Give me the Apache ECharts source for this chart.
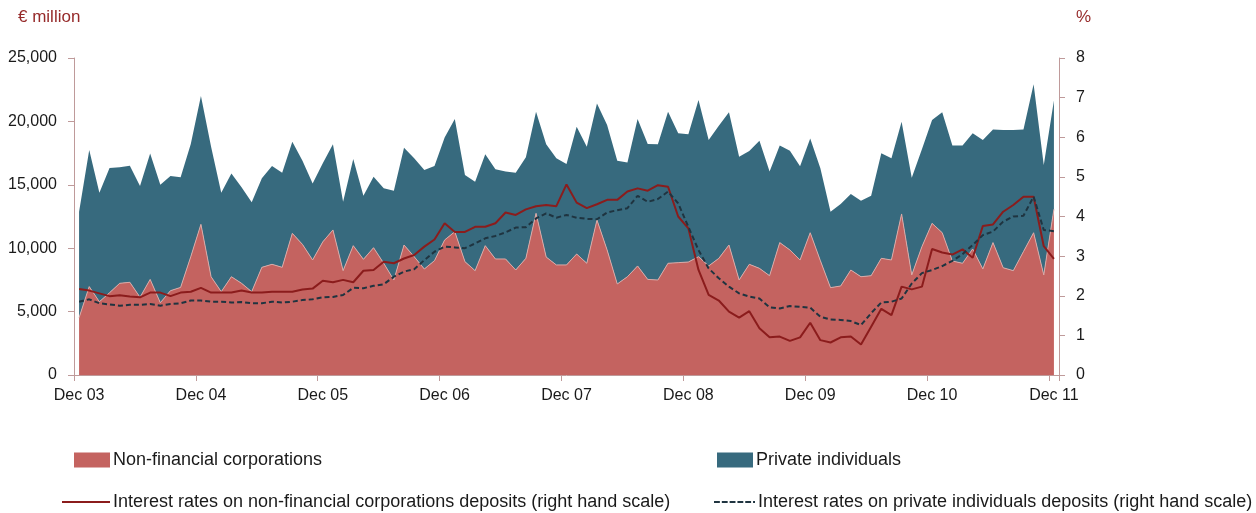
<!DOCTYPE html>
<html>
<head>
<meta charset="utf-8">
<script src="https://cdn.jsdelivr.net/npm/echarts@6/dist/echarts.min.js"></script>
<style>
  html, body { margin: 0; padding: 0; background: #fff; }
  #chart { width: 1256px; height: 513px; }
</style>
</head>
<body>
<div id="chart"></div>
<script>
// monthly, Dec 03 .. Dec 11 (97 points)
var monthNames = ['Dec', 'Jan', 'Feb', 'Mar', 'Apr', 'May', 'Jun', 'Jul', 'Aug', 'Sep', 'Oct', 'Nov'];
var yearLabels = ['03', '04', '05', '06', '07', '08', '09', '10', '11'];

// € million
var corporations = [
  4520, 6970, 5780, 6490, 7230, 7310, 6130, 7540, 5700, 6650, 6910, 9330,
  11880, 7750, 6570, 7750, 7230, 6570, 8490, 8730, 8490, 11170, 10300, 9070,
  10500, 11440, 8230, 10200, 9120, 10040, 8810, 7490, 10250, 9330, 8360, 9020,
  10650, 11300, 8940, 8230, 10200, 9150, 9150, 8280, 9200, 12750, 9300, 8680,
  8680, 9540, 8810, 12220, 9860, 7180, 7750, 8600, 7540, 7490, 8810, 8860,
  8910, 9330, 8600, 9200, 10250, 7490, 8730, 8410, 7830, 10440, 9860, 9070,
  11220, 9020, 6890, 7020, 8280, 7750, 7830, 9200, 9070, 12700, 7890, 10120,
  11960, 11220, 8990, 8810, 9940, 8360, 10440, 8460, 8230, 9730, 11220, 7890,
  13070
];
var individuals = [
  8360, 10770, 8600, 9830, 9150, 9200, 8780, 9920, 9310, 9040, 8680, 8890,
  10120, 10250, 7810, 8150, 7570, 7050, 7020, 7750, 7470, 7230, 6600, 6030,
  6190, 6750, 5440, 6830, 5020, 5600, 5910, 7050, 7680, 7760, 7810, 7460,
  8090, 8890, 6830, 7020, 7200, 7070, 6890, 7680, 7970, 8020, 8890, 8410,
  7960, 10040, 9200, 9200, 9860, 9720, 9000, 11590, 10680, 10700, 11960, 10200,
  10070, 12360, 9930, 10460, 10470, 9730, 8940, 10070, 8210, 7650, 7830, 7400,
  7440, 7280, 5990, 6470, 5990, 6000, 6310, 8280, 8020, 7280, 7670, 7680,
  8150, 9500, 9100, 9280, 9120, 10170, 8930, 10860, 11090, 9640, 11700, 8670,
  8570
];
// % (right hand scale)
var rateCorporations = [
  2.17, 2.13, 2.06, 1.99, 2.01, 1.98, 1.96, 2.08, 2.08, 1.99, 2.08, 2.10,
  2.20, 2.08, 2.08, 2.08, 2.13, 2.08, 2.08, 2.10, 2.10, 2.10, 2.16, 2.18,
  2.38, 2.34, 2.40, 2.34, 2.63, 2.65, 2.86, 2.82, 2.94, 3.03, 3.24, 3.42,
  3.83, 3.61, 3.61, 3.74, 3.74, 3.83, 4.10, 4.04, 4.18, 4.26, 4.29, 4.26,
  4.81, 4.35, 4.21, 4.31, 4.42, 4.42, 4.63, 4.71, 4.65, 4.79, 4.75, 4.00,
  3.70, 2.65, 2.02, 1.88, 1.60, 1.45, 1.61, 1.18, 0.95, 0.97, 0.86, 0.95,
  1.32, 0.88, 0.82, 0.95, 0.97, 0.77, 1.22, 1.67, 1.51, 2.23, 2.16, 2.23,
  3.18, 3.09, 3.04, 3.17, 2.96, 3.76, 3.80, 4.12, 4.29, 4.50, 4.50, 3.25,
  2.93
];
var rateIndividuals = [
  1.85, 1.91, 1.81, 1.78, 1.75, 1.77, 1.77, 1.79, 1.75, 1.79, 1.81, 1.88,
  1.88, 1.85, 1.85, 1.83, 1.84, 1.81, 1.81, 1.85, 1.83, 1.85, 1.89, 1.91,
  1.96, 1.97, 2.02, 2.20, 2.19, 2.25, 2.29, 2.48, 2.61, 2.67, 2.90, 3.11,
  3.24, 3.22, 3.20, 3.32, 3.45, 3.51, 3.60, 3.72, 3.73, 3.95, 4.08, 3.97,
  4.04, 3.97, 3.94, 3.93, 4.10, 4.16, 4.21, 4.52, 4.37, 4.44, 4.63, 4.33,
  3.74, 3.15, 2.69, 2.44, 2.23, 2.06, 1.98, 1.93, 1.71, 1.68, 1.74, 1.72,
  1.70, 1.47, 1.40, 1.39, 1.36, 1.26, 1.56, 1.83, 1.85, 1.93, 2.31, 2.57,
  2.65, 2.75, 2.88, 3.05, 3.28, 3.53, 3.62, 3.87, 4.00, 4.02, 4.50, 3.66,
  3.63
];

var categories = [];
for (var i = 0; i < corporations.length; i++) {
  var y = Math.floor((i + 11) / 12);
  categories.push(monthNames[i % 12] + ' ' + (yearLabels[y] || ''));
}

var font = "'Liberation Sans Narrow', 'Arial Narrow', 'Liberation Sans', sans-serif";
var axisColor = '#bf9a9a';
var red = '#c46360';
var teal = '#376a7e';
var rateRed = '#8b1c1c';
var rateDark = '#1f3440';
var ink = '#1a1a1a';
var legendText = { fontFamily: font, fontSize: 18, color: ink, padding: [0, 0, 0, -2] };

var chart = echarts.init(document.getElementById('chart'), null, { renderer: 'canvas' });
chart.setOption({
  animation: false,
  textStyle: { fontFamily: font },
  grid: { left: 74, right: 197, top: 58, bottom: 138, outerBoundsMode: 'none' },
  graphic: [
    { type: 'text', left: 18, top: 9, style: { text: '€ million', fill: '#962a2a', font: '17px ' + font } },
    { type: 'text', left: 1076, top: 9, style: { text: '%', fill: '#962a2a', font: '17px ' + font } }
  ],
  legend: [
    {
      data: ['Non-financial corporations'], left: 74, top: 451, padding: 0,
      itemWidth: 36, itemHeight: 15, icon: 'rect', textStyle: legendText
    },
    {
      data: ['Private individuals'], left: 717, top: 451, padding: 0,
      itemWidth: 36, itemHeight: 15, icon: 'rect', textStyle: legendText
    },
    {
      data: ['Interest rates on non-financial corporations deposits (right hand scale)'], left: 62, top: 493, padding: 0,
      itemWidth: 48, itemHeight: 14, icon: 'path://M0,0H48V2H0Z', textStyle: legendText
    },
    {
      data: ['Interest rates on private individuals deposits (right hand scale)'], left: 714, top: 493, padding: 0,
      itemWidth: 41, itemHeight: 14,
      icon: 'path://M0,0H6V2H0Z M8,0H14V2H8Z M16,0H22V2H16Z M24,0H30V2H24Z M32,0H38V2H32Z M40,0H42V2H40Z',
      textStyle: legendText
    }
  ],
  xAxis: {
    type: 'category',
    data: categories,
    boundaryGap: true,
    axisLine: { lineStyle: { color: axisColor, width: 1 } },
    axisTick: { show: true, interval: 11, length: 6, lineStyle: { color: axisColor } },
    axisLabel: { interval: 11, margin: 13, color: ink, fontSize: 16, fontFamily: font },
    splitLine: { show: false }
  },
  yAxis: [
    {
      type: 'value', min: 0, max: 25000, interval: 5000,
      axisLine: { show: true, lineStyle: { color: axisColor } },
      axisTick: { show: true, length: 6, lineStyle: { color: axisColor } },
      axisLabel: {
        margin: 17, color: ink, fontSize: 16, fontFamily: font,
        formatter: function(v) { return v.toLocaleString('en-US'); }
      },
      splitLine: { show: false }
    },
    {
      type: 'value', min: 0, max: 8, interval: 1, position: 'right',
      axisLine: { show: true, lineStyle: { color: axisColor } },
      axisTick: { show: true, length: 6, lineStyle: { color: axisColor } },
      axisLabel: { margin: 17, color: ink, fontSize: 16, fontFamily: font },
      splitLine: { show: false }
    }
  ],
  series: [
    {
      name: 'Non-financial corporations',
      type: 'line', stack: 'deposits', data: corporations,
      symbol: 'none', itemStyle: { color: red },
      lineStyle: { color: '#dba9a6', width: 1 },
      areaStyle: { color: red, opacity: 1 }
    },
    {
      name: 'Private individuals',
      type: 'line', stack: 'deposits', data: individuals,
      symbol: 'none', itemStyle: { color: teal },
      lineStyle: { width: 0, color: teal },
      areaStyle: { color: teal, opacity: 1 }
    },
    {
      name: 'Interest rates on non-financial corporations deposits (right hand scale)',
      type: 'line', yAxisIndex: 1, data: rateCorporations,
      symbol: 'none', z: 5, itemStyle: { color: rateRed },
      lineStyle: { color: rateRed, width: 2 }
    },
    {
      name: 'Interest rates on private individuals deposits (right hand scale)',
      type: 'line', yAxisIndex: 1, data: rateIndividuals,
      symbol: 'none', z: 5, itemStyle: { color: rateDark },
      lineStyle: { color: rateDark, width: 2, type: [5, 3] }
    }
  ]
});
</script>
</body>
</html>
